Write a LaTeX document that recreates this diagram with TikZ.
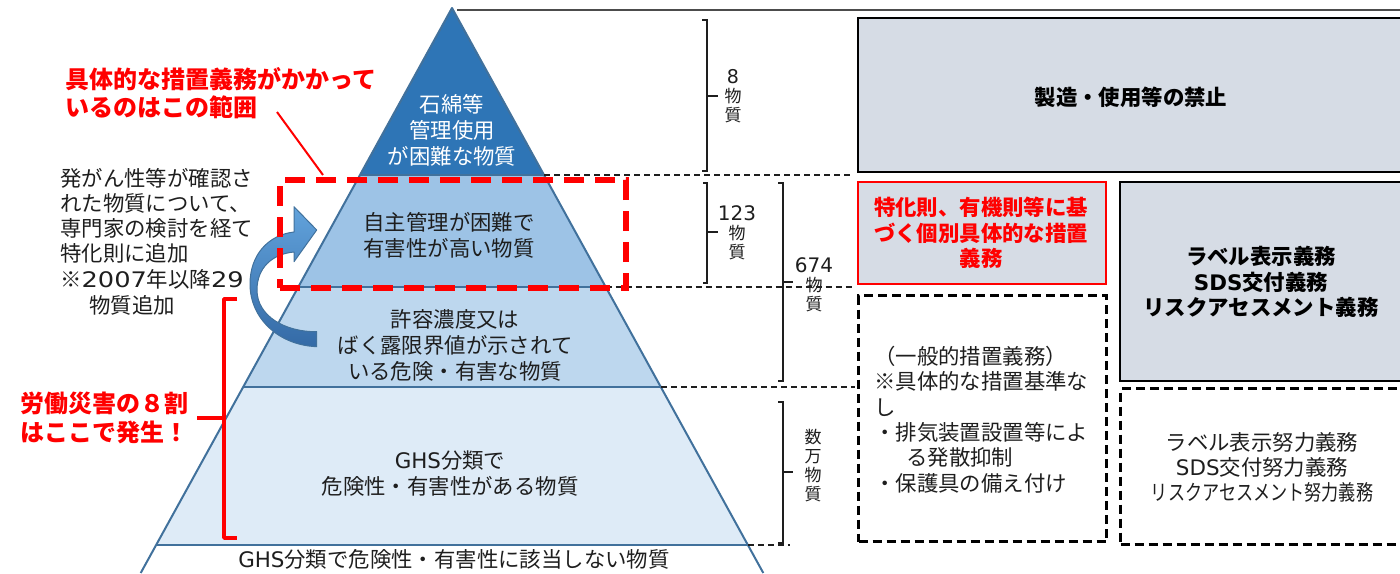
\documentclass[tikz,border=0pt]{standalone}
\usepackage{fontspec}
\setmainfont{Noto Sans CJK JP}
\newfontfamily\latinface{DejaVu Sans}
\newcommand{\latseg}[1]{{\latinface #1}}
\usepackage{graphicx}
\definecolor{pyrTop}{RGB}{46,117,182}
\definecolor{pyrTwo}{RGB}{157,195,230}
\definecolor{pyrThree}{RGB}{189,215,238}
\definecolor{pyrFour}{RGB}{222,235,247}
\definecolor{pyrEdge}{RGB}{65,113,156}
\definecolor{boxGray}{RGB}{214,220,229}
\definecolor{txtDark}{RGB}{30,30,30}
\definecolor{arrowLight}{RGB}{98,163,220}
\definecolor{arrowDark}{RGB}{52,106,166}
\definecolor{pureRed}{RGB}{255,0,0}
\tikzset{
  pyredge/.style={draw=pyrEdge, line width=2pt},
  lbl/.style={font=\fontsize{21.4}{26}\selectfont, align=center, inner sep=0pt, text=txtDark},
  wlbl/.style={lbl, text=white},
  redbold/.style={font=\fontsize{24}{28.5}\selectfont\bfseries, text=pureRed, align=left, inner sep=0pt},
  blacknote/.style={font=\fontsize{21.4}{25.3}\selectfont, text=txtDark, align=left, inner sep=0pt},
  brk/.style={draw=txtDark, line width=1.1pt},
  cnt/.style={font=\fontsize{17}{19}\selectfont, align=center, inner sep=0pt, text=txtDark},
  thindash/.style={draw=txtDark, line width=1.1pt, dash pattern=on 6pt off 4pt},
  graybox/.style={draw=black, line width=2.2pt, fill=boxGray, inner sep=0pt, anchor=north west},
  redbox/.style={draw=pureRed, line width=2.2pt, fill=boxGray, inner sep=0pt, anchor=north west},
  dashbox/.style={draw=black, line width=3pt, dash pattern=on 9pt off 5pt, inner sep=0pt, anchor=north west},
  boxbold/.style={font=\fontsize{21.4}{25.5}\selectfont\bfseries, align=center, text=black},
  boxplain/.style={font=\fontsize{21.4}{25}\selectfont, align=center, text=txtDark},
}
\begin{document}
\begin{tikzpicture}[x=1pt,y=-1pt]
\useasboundingbox (0,0) rectangle (1400,573);
% top reference line
\coordinate (topL) at (457,10);
\coordinate (topR) at (1400,10);
\draw[draw=black!70, line width=1.5pt] (topL) -- (topR);

% pyramid layers
\coordinate (apex) at (452,8);
\coordinate (l1) at (360,175);   \coordinate (r1) at (544,175);
\coordinate (l2) at (298.3,287); \coordinate (r2) at (605.7,287);
\coordinate (l3) at (243.2,387); \coordinate (r3) at (660.8,387);
\coordinate (l4) at (156.1,545); \coordinate (r4) at (747.9,545);
\coordinate (l5) at (140.7,573); \coordinate (r5) at (763.3,573);
\fill[pyrTop] (apex) -- (r1) -- (l1) -- cycle;
\fill[pyrTwo] (l1) -- (r1) -- (r2) -- (l2) -- cycle;
\fill[pyrThree] (l2) -- (r2) -- (r3) -- (l3) -- cycle;
\fill[pyrFour] (l3) -- (r3) -- (r4) -- (l4) -- cycle;
\draw[pyredge] (l1) -- (r1);
\draw[pyredge] (l2) -- (r2);
\draw[pyredge] (l3) -- (r3);
\draw[pyredge] (l4) -- (r4);
\draw[pyredge, line join=round] (l5) -- (apex) -- (r5);

% pyramid labels
\node[wlbl] (lab1) at (452,130) {石綿等\\管理使用\\が困難な物質};
\node[lbl] (lab2) at (449,235) {自主管理が困難で\\有害性が高い物質};
\node[lbl] (lab3) at (455,345) {許容濃度又は\\ばく露限界値が示されて\\いる危険・有害な物質};
\node[lbl] (lab4) at (450,474) {\latseg{GHS}分類で\\危険性・有害性がある物質};
\node[lbl] (lab5) at (454,559.5) {\latseg{GHS}分類で危険性・有害性に該当しない物質};

% thin dashed level lines
\coordinate (d1) at (850,175);
\coordinate (d2) at (855,287);
\coordinate (d3) at (855,387);
\coordinate (d4) at (790,545);
\draw[thindash] (r1) -- (d1);
\draw[thindash] (r2) -- (d2);
\draw[thindash] (r3) -- (d3);
\draw[thindash] (r4) -- (d4);

% count brackets
\draw[brk] (702,20) -- (707,20) -- (707,171) -- (702,171);
\draw[brk] (707,96) -- (718,96);
\node[cnt] (c8) at (733,96) {{\fontsize{19}{19}\selectfont\latseg{8}}\\物\\質};
\draw[brk] (703,183) -- (707,183) -- (707,283) -- (703,283);
\draw[brk] (707,232) -- (718,232);
\node[cnt] (c123) at (737,233) {{\fontsize{20}{20}\selectfont\latseg{123}}\\物\\質};
\draw[brk] (778,183) -- (783,183) -- (783,381) -- (778,381);
\draw[brk] (783,282) -- (793,282);
\node[cnt] (c674) at (814,285) {{\fontsize{20}{20}\selectfont\latseg{674}}\\物\\質};
\draw[brk] (778,402) -- (783,402) -- (783,543) -- (778,543);
\draw[brk] (783,472) -- (793,472);
\node[cnt] (cman) at (813,466) {数\\万\\物\\質};

% blue curved arrow
\path[top color=arrowLight, bottom color=arrowDark, draw=pyrEdge, line width=1pt, line join=round]
  (316.7,346.7) .. controls (278,345) and (250,318) .. (250,284)
  .. controls (250,255) and (268,235) .. (294,232)
  -- (294,206.7) -- (316.7,230) -- (294,261.7) -- (294,252)
  .. controls (272,254) and (257,268) .. (257,290)
  .. controls (257,316) and (285,332) .. (316.7,331.7) -- cycle;

% red dashed emphasis box
\node[draw=pureRed, line width=6pt, dash pattern=on 20pt off 11pt, minimum width=346pt, minimum height=108pt, inner sep=0pt, anchor=north west] (emph) at (277,177) {};

% red callout
\node[redbold, anchor=west] (calltxt) at (65,93) {具体的な措置義務がかかって\\いるのはこの範囲};
\coordinate (ptrA) at (277,112);
\coordinate (ptrB) at (323,175);
\draw[pureRed, line width=2pt] (ptrA) -- (ptrB);

% left note
\node[blacknote, anchor=west] (note) at (60,228.5) {発がん性等が確認さ\\れた物質について、\\専門家の検討を経て\\特化則に追加\\※\scalebox{1.2}[1]{\latseg{2007}}年以降\scalebox{1.2}[1]{\latseg{29}}};
\node[blacknote] (note2) at (132,305) {物質追加};

% red bracket and disaster text
\draw[pureRed, line width=3.5pt, line join=round] (237,299) -- (224,299) -- (224,538) -- (237,538);
\draw[pureRed, line width=3.5pt] (224,418) -- (197,418);
\node[redbold, anchor=west] (disaster) at (20,418) {労働災害の８割\\はここで発生！};

% right-hand boxes
\node[graybox, minimum width=553pt, minimum height=154pt] (ban) at (857,17) {};
\node[boxbold] (bantxt) at (1131,97) {製造・使用等の禁止};
\node[redbox, minimum width=248pt, minimum height=102pt] (spec) at (857,181) {};
\node[boxbold, text=pureRed] (spectxt) at (981,233) {特化則、有機則等に基\\づく個別具体的な措置\\義務};
\node[graybox, minimum width=291pt, minimum height=199pt] (label) at (1119,181) {};
\node[boxbold] (labeltxt) at (1261,282) {ラベル表示義務\\\latseg{\bfseries SDS}交付義務\\リスクアセスメント義務};
\node[dashbox, minimum width=248pt, minimum height=246pt] (gen) at (857,294) {};
\node[font=\fontsize{21.4}{25.4}\selectfont, text=txtDark, align=left, inner sep=0pt, anchor=west] (gentxt) at (874,419.5)
  {（一般的措置義務）\\※具体的な措置基準な\\し\\・排気装置設置等によ\\\hspace*{32pt}る発散抑制\\・保護具の備え付け};
\node[dashbox, minimum width=291pt, minimum height=156pt] (effort) at (1119,387) {};
\node[boxplain] (efforttxt) at (1262,467) {ラベル表示努力義務\\\latseg{SDS}交付努力義務\\\scalebox{0.8}[1]{リスクアセスメント努力義務}};
\end{tikzpicture}
\end{document}
